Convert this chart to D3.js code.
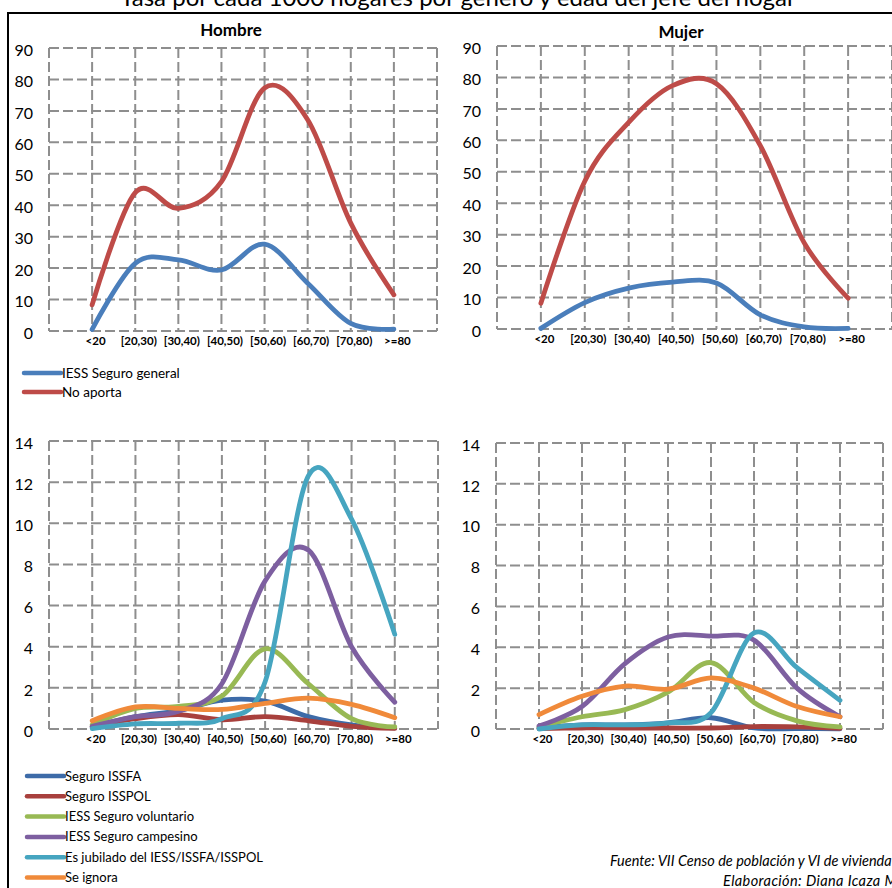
<!DOCTYPE html>
<html>
<head>
<meta charset="utf-8">
<script src="https://cdn.jsdelivr.net/npm/d3@7"></script>
<style>
  html, body { margin: 0; padding: 0; background: #fff; }
  svg { display: block; font-family: Lato, "Open Sans", sans-serif; }
</style>
</head>
<body>
<script>
// ---------------- DATA ----------------
const categories = ['<20', '[20,30)', '[30,40)', '[40,50)', '[50,60)', '[60,70)', '[70,80)', '>=80'];
const yTicksTop = [0, 10, 20, 30, 40, 50, 60, 70, 80, 90];
const yTicksBottom = [0, 2, 4, 6, 8, 10, 12, 14];

const topSeriesNames = ['IESS Seguro general', 'No aporta'];
const bottomSeriesNames = ['Seguro ISSFA', 'Seguro ISSPOL', 'IESS Seguro voluntario',
  'IESS Seguro campesino', 'Es jubilado del IESS/ISSFA/ISSPOL', 'Se ignora'];

// Hombre - top
const hombreSeguroGeneral = [0.5, 21.5, 22.6, 19.4, 27.6, 15.2, 2.4, 0.6];
const hombreNoAporta      = [8.3, 44.0, 39.0, 47.5, 77.3, 67.2, 34.3, 11.5];
// Mujer - top
const mujerSeguroGeneral  = [0.2, 8.4, 13.0, 14.9, 14.6, 4.5, 0.7, 0.2];
const mujerNoAporta       = [8.2, 47.0, 65.7, 77.4, 78.0, 58.3, 27.4, 9.8];

// Hombre - bottom
const hombreISSFA       = [0.1, 0.6, 0.9, 1.4, 1.35, 0.6, 0.2, 0.05];
const hombreISSPOL      = [0.1, 0.5, 0.7, 0.45, 0.6, 0.4, 0.13, 0.03];
const hombreVoluntario  = [0.2, 1.0, 1.1, 1.6, 3.9, 2.2, 0.5, 0.1];
const hombreCampesino   = [0.13, 0.6, 0.86, 2.2, 7.2, 8.7, 4.0, 1.3];
const hombreJubilado    = [0.02, 0.25, 0.28, 0.5, 2.3, 12.3, 10.2, 4.6];
const hombreSeIgnora    = [0.4, 1.07, 1.0, 0.95, 1.25, 1.5, 1.2, 0.55];
// Mujer - bottom
const mujerISSFA        = [0.05, 0.2, 0.2, 0.3, 0.55, 0.05, 0.02, 0.01];
const mujerISSPOL       = [0.02, 0.05, 0.05, 0.05, 0.05, 0.12, 0.1, 0.03];
const mujerVoluntario   = [0.1, 0.6, 0.95, 1.8, 3.25, 1.3, 0.4, 0.1];
const mujerCampesino    = [0.15, 1.1, 3.2, 4.5, 4.55, 4.35, 2.0, 0.6];
const mujerJubilado     = [0.0, 0.2, 0.2, 0.3, 0.8, 4.7, 3.0, 1.4];
const mujerSeIgnora     = [0.7, 1.6, 2.1, 1.95, 2.5, 2.0, 1.1, 0.6];

const topColors = ['#4a7ebb', '#be4b48'];
const bottomColors = ['#3d6ba8', '#a8403d', '#98b954', '#7d5fa0', '#46a5c0', '#f08a3a'];

// ---------------- LAYOUT ----------------
const W = 892, H = 888;
const svg = d3.select('body').append('svg').attr('width', W).attr('height', H);
svg.append('rect').attr('width', W).attr('height', H).attr('fill', '#fff');

// Title (clipped at the top in the original)
svg.append('text')
  .attr('x', 458).attr('y', 6)
  .attr('text-anchor', 'middle')
  .attr('font-size', 24)
  .attr('fill', '#000')
  .text('Tasa por cada 1000 hogares por género y edad del jefe del hogar');

// Outer black frame
svg.append('path')
  .attr('d', 'M8,888 L8,13 L892,13')
  .attr('fill', 'none').attr('stroke', '#000').attr('stroke-width', 2);

const panels = [
  { x0: 49, x1: 437, y0: 48, y1: 331, ticks: yTicksTop, title: 'Hombre', tx: 231, ty: 36,
    series: [hombreSeguroGeneral, hombreNoAporta], colors: topColors },
  { x0: 497, x1: 892, y0: 46, y1: 329, ticks: yTicksTop, title: 'Mujer', tx: 681, ty: 37.5,
    series: [mujerSeguroGeneral, mujerNoAporta], colors: topColors },
  { x0: 49, x1: 438, y0: 441, y1: 729, ticks: yTicksBottom,
    series: [hombreISSFA, hombreISSPOL, hombreVoluntario, hombreCampesino, hombreJubilado, hombreSeIgnora],
    colors: bottomColors },
  { x0: 496, x1: 883, y0: 443, y1: 729, ticks: yTicksBottom,
    series: [mujerISSFA, mujerISSPOL, mujerVoluntario, mujerCampesino, mujerJubilado, mujerSeIgnora],
    colors: bottomColors }
];

const gridColor = '#8e8e8e';

panels.forEach(p => {
  const g = svg.append('g');
  const x = d3.scalePoint().domain(categories).range([p.x0, p.x1]).padding(1);
  const y = d3.scaleLinear().domain([0, d3.max(p.ticks)]).range([p.y1, p.y0]);

  // horizontal grid
  g.append('g').selectAll('line').data(p.ticks).join('line')
    .attr('x1', p.x0).attr('x2', p.x1)
    .attr('y1', d => y(d)).attr('y2', d => y(d))
    .attr('stroke', gridColor).attr('stroke-width', 2)
    .attr('stroke-dasharray', '10,4');

  // vertical grid (edges + each category)
  const vx = [p.x0].concat(categories.map(c => x(c))).concat([p.x1]);
  g.append('g').selectAll('line').data(vx).join('line')
    .attr('x1', d => d).attr('x2', d => d)
    .attr('y1', p.y0).attr('y2', p.y1)
    .attr('stroke', gridColor).attr('stroke-width', 2)
    .attr('stroke-dasharray', '10,4');

  // y axis labels
  const ya = g.append('g').attr('transform', `translate(${p.x0},0)`)
    .call(d3.axisLeft(y).tickValues(p.ticks).tickSize(0).tickPadding(16));
  ya.select('.domain').remove();
  ya.selectAll('text').attr('font-size', 16).attr('font-family', 'Lato, sans-serif')
    .attr('fill', '#000').attr('dy', '0.45em');

  // x axis labels
  const xa = g.append('g').attr('transform', `translate(3,${p.y1})`)
    .call(d3.axisBottom(x).tickSize(0).tickPadding(6));
  xa.select('.domain').remove();
  xa.selectAll('text').attr('font-size', 11.5).attr('font-weight', 'bold')
    .attr('font-family', 'Lato, sans-serif').attr('fill', '#000');

  // title
  if (p.title) {
    g.append('text').attr('x', p.tx).attr('y', p.ty)
      .attr('text-anchor', 'middle').attr('font-size', 17).attr('font-weight', 'bold')
      .attr('fill', '#000').text(p.title);
  }

  // lines
  const line = d3.line()
    .x((d, i) => x(categories[i]))
    .y(d => y(d))
    .curve(d3.curveCardinal.tension(0));
  p.series.forEach((s, i) => {
    g.append('path').datum(s)
      .attr('d', line)
      .attr('fill', 'none')
      .attr('stroke', p.colors[i])
      .attr('stroke-width', 4.8)
      .attr('stroke-linecap', 'round')
      .attr('stroke-linejoin', 'round');
  });
});

// ---------------- LEGENDS ----------------
function legend(names, colors, x0, x1, yStart, dy, fs) {
  const lg = svg.append('g');
  names.forEach((n, i) => {
    const yy = yStart + i * dy;
    lg.append('line').attr('x1', x0).attr('x2', x1).attr('y1', yy).attr('y2', yy)
      .attr('stroke', colors[i]).attr('stroke-width', 4.5).attr('stroke-linecap', 'round');
    lg.append('text').attr('x', x1 + 1).attr('y', yy).attr('dy', '0.35em')
      .attr('font-size', fs).attr('fill', '#000').text(n);
  });
}
legend(topSeriesNames, topColors, 24, 61, 373, 19, 13.5);
legend(bottomSeriesNames, bottomColors, 27, 64, 776, 20.3, 13);

// ---------------- FOOTER ----------------
svg.append('text').attr('x', 610).attr('y', 866)
  .attr('font-size', 14.5).attr('font-style', 'italic').attr('fill', '#000')
  .text('Fuente: VII Censo de población y VI de vivienda');
svg.append('text').attr('x', 723).attr('y', 886)
  .attr('font-size', 14.5).attr('font-style', 'italic').attr('fill', '#000')
  .attr('letter-spacing', 0.4)
  .text('Elaboración: Diana Icaza M');
</script>
</body>
</html>
